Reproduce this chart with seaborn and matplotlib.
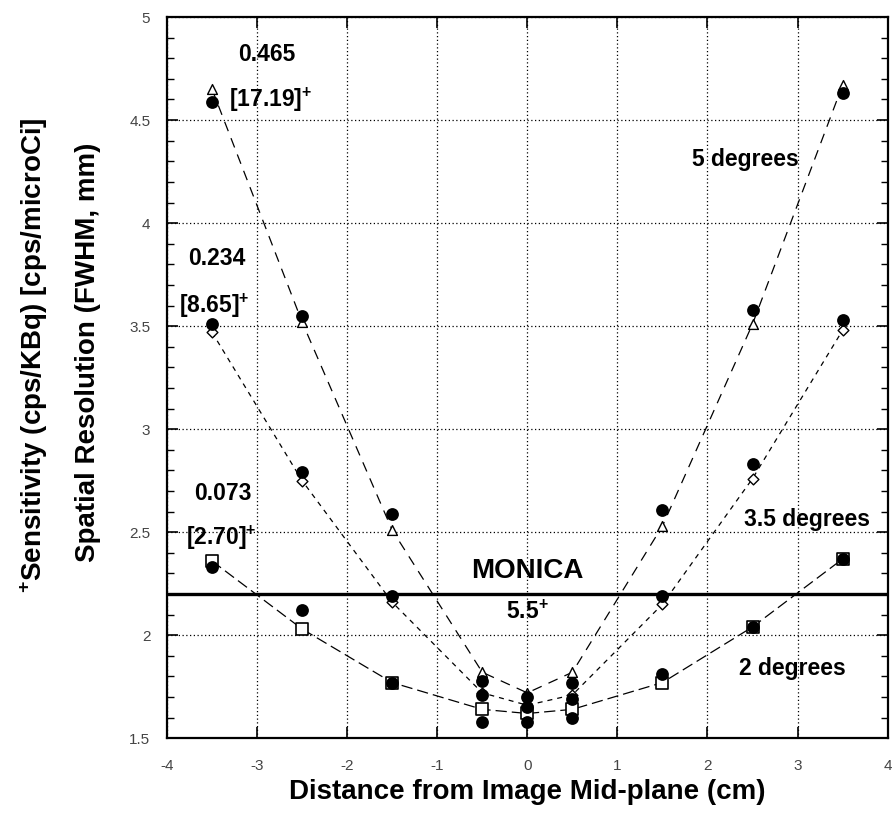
import matplotlib
matplotlib.use("Agg")
import matplotlib.pyplot as plt
from matplotlib.ticker import MultipleLocator
import pandas as pd
import seaborn as sns

# source positions relative to the image mid-plane (cm)
distance_cm = [-3.5, -2.5, -1.5, -0.5, 0.0, 0.5, 1.5, 2.5, 3.5]

# spatial resolution FWHM (mm): measured = filled circles, fit = open markers
fwhm_5deg_measured = [4.59, 3.55, 2.59, 1.78, 1.70, 1.77, 2.61, 3.58, 4.63]
fwhm_5deg_fit = [4.65, 3.52, 2.51, 1.82, 1.72, 1.82, 2.53, 3.51, 4.67]

fwhm_35deg_measured = [3.51, 2.79, 2.19, 1.71, 1.65, 1.69, 2.19, 2.83, 3.53]
fwhm_35deg_fit = [3.47, 2.75, 2.16, 1.72, 1.66, 1.71, 2.15, 2.76, 3.48]

fwhm_2deg_measured = [2.33, 2.12, 1.77, 1.58, 1.58, 1.60, 1.81, 2.04, 2.37]
fwhm_2deg_fit = [2.36, 2.03, 1.77, 1.64, 1.62, 1.64, 1.77, 2.04, 2.37]

monica_fwhm = 2.2

# sensitivity annotations per collimator angle
sens_labels = ["0.465", "0.234", "0.073"]
sens_ci_labels = ["[17.19]", "[8.65]", "[2.70]"]
angle_labels = ["5 degrees", "3.5 degrees", "2 degrees"]

sns.set_theme(style="ticks")
plt.rcParams["font.family"] = ["Liberation Sans", "DejaVu Sans"]
plt.rcParams["text.color"] = "black"
plt.rcParams["axes.labelcolor"] = "black"
plt.rcParams["mathtext.fontset"] = "custom"
plt.rcParams["mathtext.rm"] = "Liberation Sans:bold"
plt.rcParams["mathtext.bf"] = "Liberation Sans:bold"

fits = pd.DataFrame({
    "x": distance_cm * 3,
    "fwhm": fwhm_5deg_fit + fwhm_35deg_fit + fwhm_2deg_fit,
    "series": ["5"] * 9 + ["3.5"] * 9 + ["2"] * 9,
})
meas = pd.DataFrame({
    "x": distance_cm * 3,
    "fwhm": fwhm_5deg_measured + fwhm_35deg_measured + fwhm_2deg_measured,
})

fig = plt.figure(figsize=(8.93, 8.13), dpi=100)
ax = fig.add_axes([0.187, 0.092, 0.807, 0.887])

# dashed fit curves
sns.lineplot(data=fits, x="x", y="fwhm", style="series", sort=False,
             dashes={"5": (8, 6), "3.5": (4, 4), "2": (9, 4)},
             color="black", linewidth=0.9, legend=False, ax=ax, zorder=3)

# open markers for the fits
sns.scatterplot(x=distance_cm, y=fwhm_5deg_fit, marker="^", s=50,
                facecolor="white", edgecolor="black", linewidth=1.0, ax=ax, zorder=4)
sns.scatterplot(x=distance_cm, y=fwhm_35deg_fit, marker="D", s=30,
                facecolor="white", edgecolor="black", linewidth=1.0, ax=ax, zorder=4)
sns.scatterplot(x=distance_cm, y=fwhm_2deg_fit, marker="s", s=75,
                facecolor="white", edgecolor="black", linewidth=1.2, ax=ax, zorder=4)

# measured points
sns.scatterplot(data=meas, x="x", y="fwhm", marker="o", s=85,
                color="black", edgecolor="black", linewidth=0, ax=ax, zorder=5)

ax.axhline(monica_fwhm, color="black", linewidth=2.4, zorder=6)

ax.set_xlim(-4, 4)
ax.set_ylim(1.5, 5)
ax.xaxis.set_major_locator(MultipleLocator(1))
ax.yaxis.set_major_locator(MultipleLocator(0.5))
ax.yaxis.set_minor_locator(MultipleLocator(0.1))
ax.set_xticklabels([f"{v:g}" for v in ax.get_xticks()])
ax.set_yticklabels([f"{v:g}" for v in ax.get_yticks()])
ax.tick_params(axis="both", which="both", direction="in", top=True, right=True,
               colors="black", labelcolor="#444444", labelsize=11)
ax.tick_params(axis="both", which="major", length=8, width=1.2)
ax.tick_params(axis="y", which="minor", length=5, width=1.0)
ax.tick_params(axis="x", which="major", pad=15)
ax.tick_params(axis="y", which="major", pad=12)
ax.grid(True, which="major", color="black", linestyle=(0, (1, 2)), linewidth=0.9)
for sp in ax.spines.values():
    sp.set_linewidth(1.6)
    sp.set_color("black")

ax.set_xlabel("Distance from Image Mid-plane (cm)", fontsize=20,
              fontweight="bold", labelpad=4)
ax.set_ylabel("")
fig.text(0.038, 0.563, "$^{+}$Sensitivity (cps/KBq) [cps/microCi]", rotation=90,
         fontsize=20, fontweight="bold", ha="center", va="center")
fig.text(0.099, 0.567, "Spatial Resolution (FWHM, mm)", rotation=90,
         fontsize=20, fontweight="bold", ha="center", va="center")

txt = dict(fontsize=16.5, fontweight="bold", ha="center", va="center", zorder=7)
ax.text(-2.89, 4.82, sens_labels[0], **txt)
ax.text(-2.85, 4.60, sens_ci_labels[0] + "$^{+}$", **txt)
ax.text(-3.45, 3.83, sens_labels[1], **txt)
ax.text(-3.47, 3.60, sens_ci_labels[1] + "$^{+}$", **txt)
ax.text(-3.38, 2.69, sens_labels[2], **txt)
ax.text(-3.40, 2.47, sens_ci_labels[2] + "$^{+}$", **txt)
ax.text(2.42, 4.31, angle_labels[0], **txt)
ax.text(3.10, 2.56, angle_labels[1], **txt)
ax.text(2.94, 1.84, angle_labels[2], **txt)
ax.text(0.0, 2.31, "MONICA", fontsize=20, fontweight="bold", ha="center",
        va="center", zorder=7)
ax.text(0.0, 2.11, "5.5$^{+}$", **txt)

fig.savefig("out.png", dpi=100)
